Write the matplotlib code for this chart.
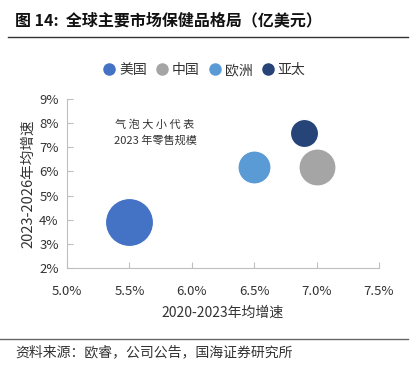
import matplotlib
matplotlib.use("Agg")
import matplotlib.pyplot as plt
from matplotlib.lines import Line2D
from matplotlib.ticker import FuncFormatter

plt.rcParams['font.family'] = ['Noto Sans CJK SC', 'DejaVu Sans']

# 数据
markets = ['美国', '中国', '欧洲', '亚太']
growth_2020_2023 = [0.055, 0.070, 0.065, 0.069]
growth_2023_2026 = [0.039, 0.062, 0.062, 0.076]
retail_2023 = [560, 333, 265, 191]  # 气泡大小（亿美元，估计值）
colors = ['#4472C4', '#A5A5A5', '#5B9BD5', '#264478']

x_ticks = [0.050, 0.055, 0.060, 0.065, 0.070, 0.075]
y_ticks = [0.02, 0.03, 0.04, 0.05, 0.06, 0.07, 0.08, 0.09]

fig = plt.figure(figsize=(4.16, 3.76), dpi=100)
ax = fig.add_axes([0.161, 0.287, 0.75, 0.45])

scale = 2.13
for m, xv, yv, s, c in zip(markets, growth_2020_2023, growth_2023_2026, retail_2023, colors):
    ax.scatter(xv, yv, s=s * scale, color=c, edgecolors='white', linewidths=0.8, zorder=3)

ax.set_xlim(0.05, 0.075)
ax.set_ylim(0.02, 0.09)
ax.set_xticks(x_ticks)
ax.set_yticks(y_ticks)
ax.xaxis.set_major_formatter(FuncFormatter(lambda v, p: f'{v*100:.1f}%'))
ax.yaxis.set_major_formatter(FuncFormatter(lambda v, p: f'{v*100:.0f}%'))
ax.tick_params(axis='both', direction='in', length=4, color='#BFBFBF', labelsize=9.5, labelcolor='#333333')
ax.tick_params(axis='x', pad=12)
ax.tick_params(axis='y', pad=6)
for side in ['top', 'right']:
    ax.spines[side].set_visible(False)
for side in ['left', 'bottom']:
    ax.spines[side].set_color('#BFBFBF')

ax.set_xlabel('2020-2023年均增速', fontsize=10, color='#333333', labelpad=6)
ax.set_ylabel('2023-2026年均增速', fontsize=10.5, color='#333333', labelpad=3)

ax.text(0.05705, 0.0762, '气 泡 大 小 代 表\n2023 年零售规模', fontsize=8,
        ha='center', va='center', linespacing=1.6, color='#333333')

# 图例
handles = [Line2D([], [], marker='o', linestyle='', markersize=8, color=c) for c in colors]
fig.legend(handles, markets, loc='center', bbox_to_anchor=(0.49, 0.813), ncol=4,
           frameon=False, fontsize=10, handletextpad=0.2, columnspacing=0.6,
           handlelength=1.0, labelcolor='#333333')

# 标题与来源
fig.text(0.036, 0.945, '图 14:  全球主要市场保健品格局（亿美元）', fontsize=11.5,
         fontweight='bold', va='center', color='#111111')
fig.add_artist(Line2D([0.02, 0.98], [0.902, 0.902], color='#333333', linewidth=1.0))
fig.add_artist(Line2D([0.0, 0.98], [0.098, 0.098], color='#666666', linewidth=1.0))
fig.text(0.036, 0.062, '资料来源：欧睿，公司公告，国海证券研究所', fontsize=10,
         va='center', color='#333333')

fig.savefig('out.png', dpi=100)
